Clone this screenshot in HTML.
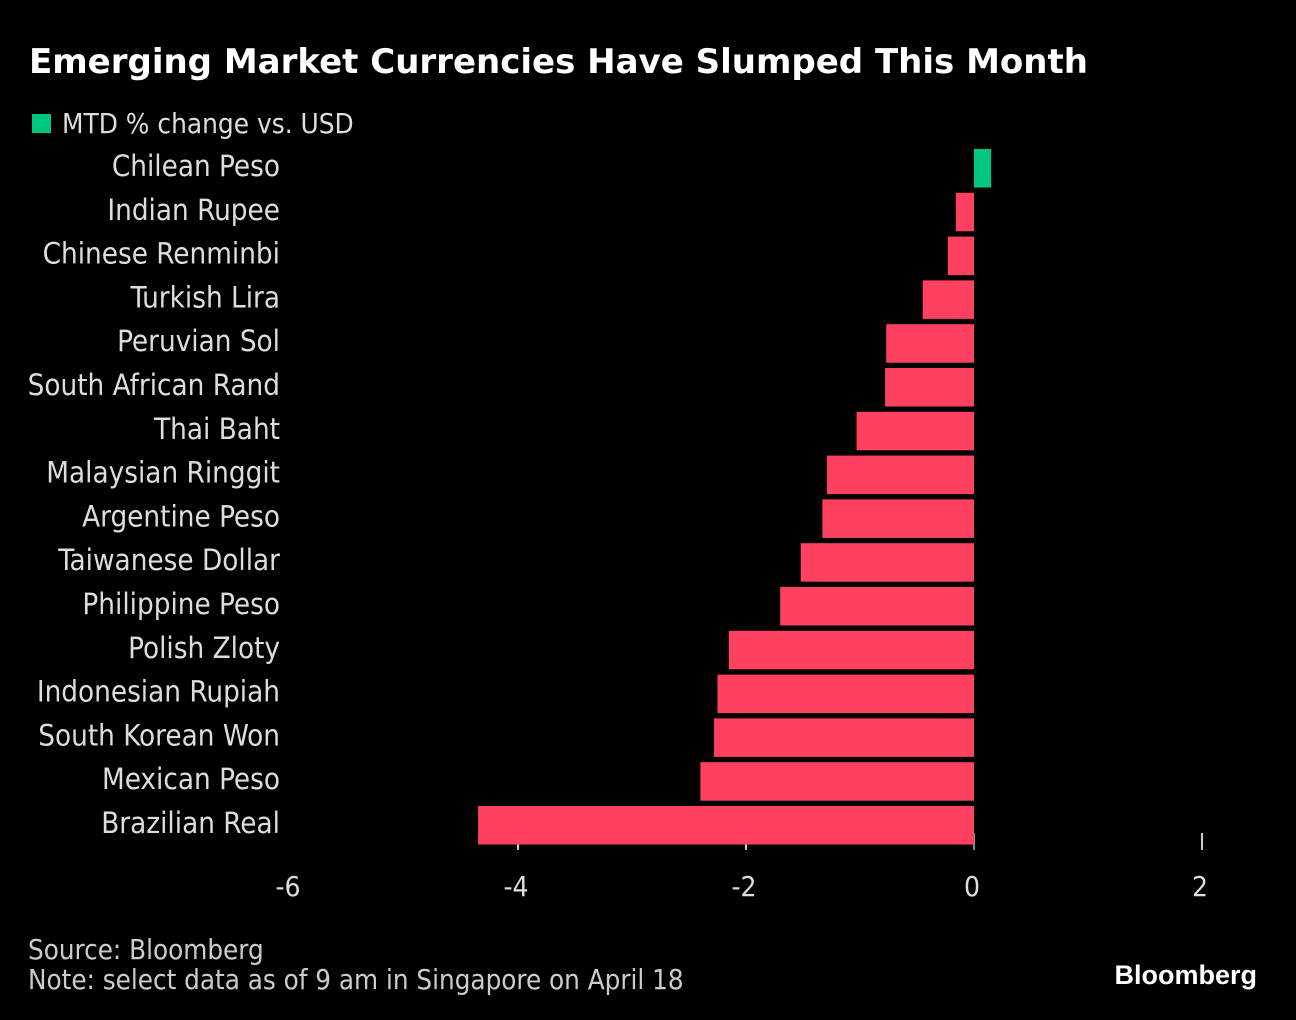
<!DOCTYPE html>
<html><head><meta charset="utf-8"><style>
html,body{margin:0;background:#000;width:1296px;height:1020px;overflow:hidden}
text{font-family:"DejaVu Sans Condensed","Liberation Sans",sans-serif}
</style></head><body>
<svg id="chart" width="1296" height="1020" xmlns="http://www.w3.org/2000/svg">
<text x="29" y="73" fill="#fff" font-size="34" font-weight="bold" style="font-family:'DejaVu Sans','Liberation Sans',sans-serif">Emerging Market Currencies Have Slumped This Month</text>
<rect x="32" y="114" width="19" height="19" fill="#00c77f"/>
<text x="62" y="133" fill="#ddd" font-size="27.7">MTD % change vs. USD</text>
<g id="axis"></g>
<g id="bars"></g>
<text x="28" y="959" fill="#ccc" font-size="27.5">Source: Bloomberg</text>
<text x="28" y="989" fill="#ccc" font-size="27.5">Note: select data as of 9 am in Singapore on April 18</text>
<text x="1257" y="984" fill="#fff" font-size="27" font-weight="bold" text-anchor="end" style="font-family:'Liberation Sans',sans-serif">Bloomberg</text>
</svg>
<script>
const categories=["Chilean Peso","Indian Rupee","Chinese Renminbi","Turkish Lira","Peruvian Sol","South African Rand","Thai Baht","Malaysian Ringgit","Argentine Peso","Taiwanese Dollar","Philippine Peso","Polish Zloty","Indonesian Rupiah","South Korean Won","Mexican Peso","Brazilian Real"];
const values=[0.15,-0.16,-0.23,-0.45,-0.77,-0.78,-1.03,-1.29,-1.33,-1.52,-1.70,-2.15,-2.25,-2.28,-2.40,-4.35];
const ticks=[-6,-4,-2,0,2];
const tickLabels=["-6","-4","-2","0","2"];
const NS="http://www.w3.org/2000/svg";
function x(v){return 974+v*114;}
function y(i){return 149+i*43.8;}
const bars=document.getElementById('bars'),axis=document.getElementById('axis');
categories.forEach((c,i)=>{
  const v=values[i];
  const r=document.createElementNS(NS,'rect');
  r.setAttribute('x',Math.min(x(0),x(v)));
  r.setAttribute('y',y(i));
  r.setAttribute('width',Math.abs(x(v)-x(0)));
  r.setAttribute('height',38.5);
  r.setAttribute('fill',v>=0?'#00c77f':'#ff405f');
  
  
  bars.appendChild(r);
  const t=document.createElementNS(NS,'text');
  t.setAttribute('x',280);t.setAttribute('y',y(i)+27);
  t.setAttribute('fill','#ddd');t.setAttribute('font-size','29.3');t.setAttribute('text-anchor','end');
  t.textContent=c;
  
  
  bars.appendChild(t);
});
ticks.forEach((v,i)=>{
  if(v!==-6){
    const l=document.createElementNS(NS,'line');
    l.setAttribute('x1',x(v));l.setAttribute('x2',x(v));l.setAttribute('y1',833);l.setAttribute('y2',850);
    l.setAttribute('stroke',v===0?'#888':'#ccc');l.setAttribute('stroke-width',2);
    
    
    axis.appendChild(l);
  }
  const t=document.createElementNS(NS,'text');
  t.setAttribute('x',x(v)-2);t.setAttribute('y',896);t.setAttribute('fill','#ddd');
  t.setAttribute('font-size','28');t.setAttribute('text-anchor','middle');
  t.textContent=tickLabels[i];
  
  
  axis.appendChild(t);
});
</script>
</body></html>
